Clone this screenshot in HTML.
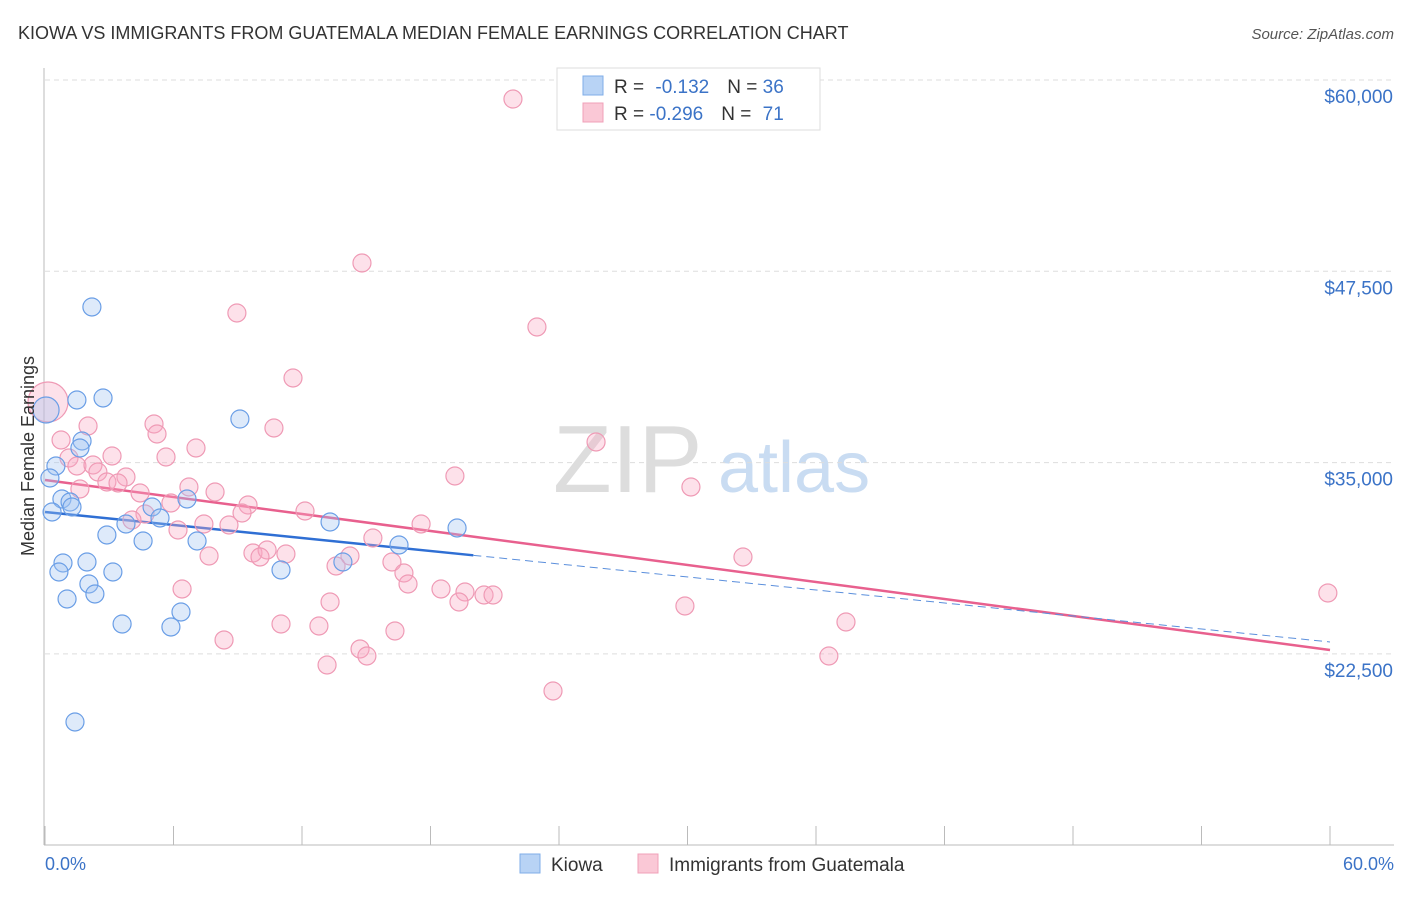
<!DOCTYPE html>
<html><head><meta charset="utf-8"><style>
body{margin:0;background:#fff;font-family:"Liberation Sans",sans-serif;}
svg text{font-family:"Liberation Sans",sans-serif;}
</style></head><body>
<svg id="c" width="1406" height="892" xmlns="http://www.w3.org/2000/svg">
<text x="18" y="39" font-size="18" fill="#333">KIOWA VS IMMIGRANTS FROM GUATEMALA MEDIAN FEMALE EARNINGS CORRELATION CHART</text>
<text x="1394" y="39" font-size="15" fill="#555" font-style="italic" text-anchor="end">Source: ZipAtlas.com</text>
<g>
<text x="553" y="492" font-size="96" fill="#ddd" font-family="Liberation Serif">ZIP</text>
<text x="718" y="492" font-size="72" fill="#c9dcf2">atlas</text>
</g>
<g id="grid"></g><g id="axes"></g><g id="trend"></g><g id="pts"></g>
<text transform="translate(34,456) rotate(-90)" font-size="18" fill="#333" text-anchor="middle">Median Female Earnings</text>
<text x="45" y="870" font-size="18" fill="#3b73c7">0.0%</text>
<text x="1394" y="870" font-size="18" fill="#3b73c7" text-anchor="end">60.0%</text>
<g>
<rect x="557" y="68" width="263" height="62" fill="#fff" stroke="#ddd"/>
<rect x="583" y="76" width="20" height="19" fill="#b8d3f5" stroke="#7faee8"/>
<rect x="583" y="103" width="20" height="19" fill="#fac8d6" stroke="#f0a0b8"/>
<text x="614" y="93" font-size="19" fill="#333">R = <tspan fill="#3b73c7" dx="6">-0.132</tspan><tspan dx="18">N = </tspan><tspan fill="#3b73c7">36</tspan></text>
<text x="614" y="120" font-size="19" fill="#333">R = <tspan fill="#3b73c7">-0.296</tspan><tspan dx="18">N = </tspan><tspan fill="#3b73c7" dx="6">71</tspan></text>
</g>
<g>
<rect x="520" y="854" width="20" height="19" fill="#b8d3f5" stroke="#7faee8"/>
<text x="551" y="871" font-size="19" fill="#333">Kiowa</text>
<rect x="638" y="854" width="20" height="19" fill="#fac8d6" stroke="#f0a0b8"/>
<text x="669" y="871" font-size="19" fill="#333">Immigrants from Guatemala</text>
</g>
</svg>
<script>
const yTicks=[60000,47500,35000,22500];
const yTickLabels=["$60,000","$47,500","$35,000","$22,500"];
const kiowaX=[2.19,2.71,1.49,0.05,1.73,1.63,0.51,0.23,0.79,1.17,1.26,0.33,5.00,6.63,9.10,3.78,5.37,2.89,4.58,7.10,13.31,19.24,16.53,13.91,11.02,1.96,0.84,0.65,3.17,2.05,2.33,1.03,6.35,3.60,5.88,1.40];
const kiowaY=[45168,39222,39091,38438,36412,35955,34779,33995,32623,32427,32100,31773,32100,32623,37849,30989,31381,30270,29878,29878,31120,30728,29617,28506,27983,28506,28440,27852,27852,27068,26415,26088,25239,24455,24259,18051];
const guatX=[21.85,14.80,8.96,22.97,11.58,0.14,2.01,5.09,5.23,10.69,0.75,7.05,5.65,25.73,19.14,30.16,1.12,1.49,2.24,2.47,3.13,3.78,2.89,3.41,1.63,4.44,6.72,7.94,9.48,5.88,4.67,4.06,12.14,9.20,7.42,8.59,6.21,17.56,15.31,7.66,9.71,10.37,11.25,10.04,14.24,13.59,16.20,16.76,16.95,18.49,19.61,20.50,20.92,19.33,13.31,6.40,32.59,29.88,59.90,37.40,11.02,12.79,16.34,8.36,14.71,15.03,13.17,36.60,23.72];
const guatY=[58758,48043,44776,43861,40529,38961,37392,37523,36870,37262,36478,35955,35367,36347,34125,33407,35301,34779,34844,34387,35432,34060,33733,33668,33276,33015,33407,33080,32230,32361,31642,31250,31838,31708,30989,30924,30597,30989,30074,28898,29094,29290,29029,28833,28898,28245,28506,27787,27069,26742,26546,26350,26350,25893,25893,26742,28833,25631,26481,24586,24455,24324,23998,23410,22822,22364,21776,22364,20077];
const kiowaTrend=[31773,23279];
const guatTrend=[33864,22756];
const xs=v=>45+v/60*1285;
const ys=v=>80+(60000-v)/12500*191.3;
const NS="http://www.w3.org/2000/svg";
function mk(p,t,a){const e=document.createElementNS(NS,t);for(const k in a)e.setAttribute(k,a[k]);document.getElementById(p).appendChild(e);return e;}
yTicks.forEach((v,i)=>{
 const l=mk('grid','line',{x1:45,x2:1394,y1:ys(v),y2:ys(v),stroke:'#ddd','stroke-dasharray':'5,4'});
 
 
 const t=mk('grid','text',{x:1393,y:ys(v)+23,'font-size':19,fill:'#3b73c7','text-anchor':'end'});
 t.textContent=yTickLabels[i];
 
 
});
const ax=mk('axes','line',{x1:44,x2:44,y1:68,y2:845,stroke:'#bbb'});


const bx=mk('axes','line',{x1:44,x2:1394,y1:845,y2:845,stroke:'#bbb'});


for(let i=0;i<=10;i++){const t=mk('axes','line',{x1:xs(i*6),x2:xs(i*6),y1:826,y2:845,stroke:'#bbb'});
 
 }
let tl=mk('trend','line',{x1:xs(0),y1:ys(guatTrend[0]),x2:xs(60),y2:ys(guatTrend[1]),stroke:'#e8608e','stroke-width':2.5});


const kAt=x=>kiowaTrend[0]+(kiowaTrend[1]-kiowaTrend[0])*x/60;
tl=mk('trend','line',{x1:xs(0),y1:ys(kAt(0)),x2:xs(20),y2:ys(kAt(20)),stroke:'#2f6fd4','stroke-width':2.5});


tl=mk('trend','line',{x1:xs(20),y1:ys(kAt(20)),x2:xs(60),y2:ys(kAt(60)),stroke:'#5b8fdc','stroke-width':1,'stroke-dasharray':'8,5'});


guatX.forEach((x,i)=>{const c=mk('pts','circle',{cx:xs(x),cy:ys(guatY[i]),r:i==5?20:9,fill:'rgba(248,170,195,0.35)',stroke:'#ef9ab5','stroke-width':1.2});
 
 });
kiowaX.forEach((x,i)=>{const c=mk('pts','circle',{cx:xs(x),cy:ys(kiowaY[i]),r:i==3?13:9,fill:'rgba(160,195,240,0.35)',stroke:'#6a9ee6','stroke-width':1.2});
 
 });
</script>
</body></html>
